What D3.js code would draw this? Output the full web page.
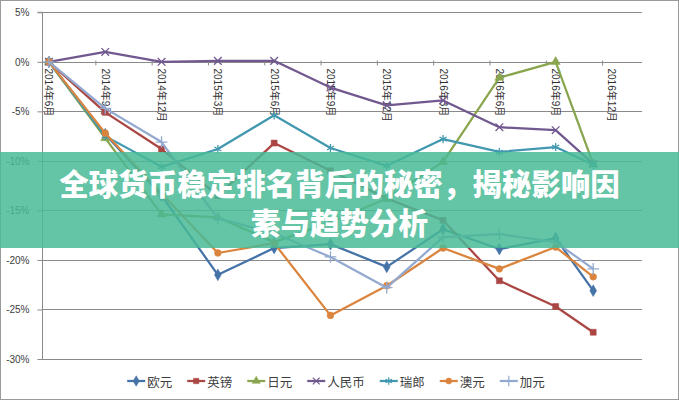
<!DOCTYPE html>
<html><head><meta charset="utf-8">
<script src="https://cdn.jsdelivr.net/npm/d3@7"></script>
<style>body{margin:0;background:#fff}svg{display:block}</style>
</head><body><svg id="c" width="679" height="400"></svg>
<script>
const dates = ["2014-06","2014-09","2014-12","2015-03","2015-06","2015-09","2015-12","2016-03","2016-06","2016-09","2016-11"];
const tickLabels = ["2014年6月","2014年9月","2014年12月","2015年3月","2015年6月","2015年9月","2015年12月","2016年3月","2016年6月","2016年9月","2016年12月"];
const yTicks = [5,0,-5,-10,-15,-20,-25,-30];
const seriesNames = ["欧元","英镑","日元","人民币","瑞郎","澳元","加元"];
const eur = [0,-7.3,-13.5,-21.5,-18.8,-18.4,-20.7,-16.9,-18.9,-17.8,-23.1];
const gbp = [0,-5.1,-8.8,-13.5,-8.2,-11.0,-13.8,-16.0,-22.1,-24.7,-27.3];
const jpy = [0,-7.7,-15.4,-15.7,-18.2,-16.2,-13.8,-10.1,-1.6,0.0,-10.3];
const cny = [0,1.0,0,0.1,0.1,-2.6,-4.4,-3.9,-6.6,-6.9,-10.3];
const chf = [0,-7.5,-10.6,-8.8,-5.4,-8.7,-10.5,-7.8,-9.1,-8.6,-10.4];
const aud = [0,-7.2,-13.3,-19.3,-18.3,-25.6,-22.6,-18.8,-20.9,-18.7,-21.7];
const cad = [0,-4.7,-8.1,-15.8,-17.3,-19.7,-22.8,-17.7,-17.4,-18.2,-20.9];
const titleLines = ["全球货币稳定排名背后的秘密，揭秘影响因","素与趋势分析"];

const values = [eur,gbp,jpy,cny,chf,aud,cad];
const colors = ["#4572A7","#AA4643","#89A54E","#71588F","#4198AF","#DB843D","#93A9CF"];
const symbols = [d3.symbolDiamond,d3.symbolSquare,d3.symbolTriangle,d3.symbolX,d3.symbolAsterisk,d3.symbolCircle,d3.symbolPlus];
const filled = [true,true,true,false,false,true,false];
const sizes = [40,36,36,40,46,36,46];

const monthIdx = s => { const [y,m] = s.split("-").map(Number); return (y-2014)*12 + (m-6); };
const xs = dates.map(monthIdx);

const svg = d3.select("#c");
const W = 679, H = 400;
svg.append("rect").attr("x",0.5).attr("y",0.5).attr("width",W-1).attr("height",H-1)
  .attr("fill","#fff").attr("stroke","#9a9a9a");

const x = d3.scaleLinear().domain([-0.37,31.6]).range([42,642]);
const y = d3.scaleLinear().domain([-30,5]).range([359,12.3]);
const font = "'Liberation Sans','Noto Sans CJK SC',sans-serif";

// gridlines
svg.append("g").selectAll("line").data(yTicks).join("line")
  .attr("x1",42).attr("x2",642).attr("y1",d=>Math.round(y(d))+0.5).attr("y2",d=>Math.round(y(d))+0.5)
  .attr("stroke","#8a8a8a").attr("stroke-width",1);

// y axis
const yAxis = svg.append("g").attr("transform","translate(42.5,0)")
  .call(d3.axisLeft(y).tickValues(yTicks).tickSize(5).tickPadding(8).tickFormat(d=>d+"%"));
yAxis.select(".domain").attr("stroke","#8a8a8a").attr("d",`M-5,${y(5)}H0V${y(-30)}`);
yAxis.selectAll(".tick line").attr("stroke","#8a8a8a");
yAxis.selectAll("text").attr("font-family",font).attr("font-size",10).attr("fill","#404040");

// x axis ticks on the 0% line
const y0 = Math.round(y(0))+0.5;
svg.append("g").selectAll("line").data(tickLabels.slice(1)).join("line")
  .attr("x1",(d,i)=>x((i+1)*3-0.5)).attr("x2",(d,i)=>x((i+1)*3-0.5))
  .attr("y1",y0-2).attr("y2",y0+3).attr("stroke","#8a8a8a");
svg.append("g").selectAll("text").data(tickLabels).join("text")
  .attr("transform",(d,i)=>`translate(${x(i*3)},${y0+6}) rotate(90)`)
  .attr("dominant-baseline","central").attr("text-anchor","start")
  .attr("font-family",font).attr("font-size",10).attr("fill","#333")
  .text(d=>d);

// lines
const line = d3.line().x((d,i)=>x(xs[i])).y(d=>y(d));
values.forEach((vals,k)=>{
  const g = svg.append("g");
  g.append("path").datum(vals).attr("d",line).attr("fill","none")
    .attr("stroke",colors[k]).attr("stroke-width",2.25).attr("stroke-linejoin","round");
  g.selectAll("path.m").data(vals).join("path").attr("class","m")
    .attr("transform",(d,i)=>`translate(${x(xs[i])},${y(d)})`)
    .attr("d",d3.symbol(symbols[k],sizes[k]))
    .attr("fill",filled[k]?colors[k]:"none")
    .attr("stroke",colors[k]).attr("stroke-width",filled[k]?0.5:1.3);
});

// legend
const lg = svg.append("g");
const items = lg.selectAll("g").data(seriesNames).join("g");
items.append("line").attr("x1",0).attr("x2",18).attr("y1",0).attr("y2",0)
  .attr("stroke",(d,i)=>colors[i]).attr("stroke-width",2.25);
items.append("path").attr("transform","translate(9,0)")
  .attr("d",(d,i)=>d3.symbol(symbols[i],sizes[i]*0.8)())
  .attr("fill",(d,i)=>filled[i]?colors[i]:"none").attr("stroke",(d,i)=>colors[i]).attr("stroke-width",(d,i)=>filled[i]?0.5:1.2);
items.append("text").attr("x",20).attr("y",0).attr("dominant-baseline","central")
  .attr("font-family","'Noto Sans CJK SC',sans-serif").attr("font-size",12.5).attr("fill","#404040").text(d=>d);
let off = 0; const offs = [];
items.each(function(d,i){ offs.push(off); off += 20 + this.querySelector("text").getComputedTextLength() + 15; });
const total = off - 15;
items.attr("transform",(d,i)=>`translate(${offs[i]},0)`);
lg.attr("transform",`translate(${336 - total/2},381)`);

// banner
svg.append("rect").attr("x",0).attr("y",152).attr("width",W).attr("height",96)
  .attr("fill","rgb(72,186,150)").attr("fill-opacity",0.85);
svg.append("g").selectAll("text").data(titleLines).join("text")
  .attr("x",W/2).attr("y",(d,i)=>182+i*39).attr("text-anchor","middle").attr("dominant-baseline","central")
  .attr("font-family","'Noto Sans CJK SC',sans-serif").attr("font-weight",900).attr("font-size",29.5)
  .attr("fill","#fff").text(d=>d);
</script></body></html>
